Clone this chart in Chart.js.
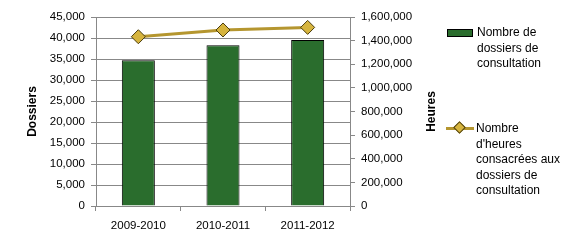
<!DOCTYPE html>
<html>
<head>
<meta charset="utf-8">
<script src="https://cdn.jsdelivr.net/npm/chart.js@4"></script>
<style>
  body { margin: 0; background: #fff; }
  #wrap { position: relative; width: 580px; height: 242px; }
  .leg { position: absolute; font: 12px "Liberation Sans", Arial, sans-serif; color: #000; line-height: 15.5px; }
  .leg .txt { position: absolute; left: 30px; top: 0; white-space: nowrap; }
  .box { position: absolute; left: 0; top: 4px; width: 24px; height: 6px; background: #2a6d2d; border: 1px solid #000; }
  .ln { position: absolute; left: 0; top: 6px; width: 28px; height: 3px; background: #b5962f; }
  .dm { position: absolute; left: 9px; top: 2px; width: 7px; height: 7px; background: #d6b43e; border: 1px solid #4a3c0c; transform: rotate(45deg); }
</style>
</head>
<body>
<div id="wrap">
  <canvas id="c" width="580" height="242"></canvas>
  <div class="leg" style="left:447px; top:25px;">
    <div class="box"></div>
    <div class="txt">Nombre de<br>dossiers de<br>consultation</div>
  </div>
  <div class="leg" style="left:446px; top:121px;">
    <div class="ln"></div><div class="dm"></div>
    <div class="txt">Nombre<br>d'heures<br>consacrées aux<br>dossiers de<br>consultation</div>
  </div>
</div>
<script>
const categories = ['2009-2010', '2010-2011', '2011-2012'];
const dossiers = [34700, 38300, 39500];
const heures = [1433000, 1490000, 1512000];

const font = { family: '"Liberation Sans", Arial, sans-serif', size: 11.5 };
const fmt = v => Number(v).toLocaleString('en-US');

const titles = {
  id: 'axisTitles',
  afterDraw(chart) {
    const ctx = chart.ctx;
    const area = chart.chartArea;
    const cy = (area.top + area.bottom) / 2;
    ctx.save();
    ctx.font = 'bold 12px "Liberation Sans", Arial, sans-serif';
    ctx.fillStyle = '#000';
    ctx.textAlign = 'center';
    ctx.textBaseline = 'middle';
    [['Dossiers', 33], ['Heures', 432]].forEach(([t, x]) => {
      ctx.save();
      ctx.translate(x, cy);
      ctx.rotate(-Math.PI / 2);
      ctx.fillText(t, 0, 0);
      ctx.restore();
    });
    ctx.restore();
  }
};

new Chart(document.getElementById('c'), {
  data: {
    labels: categories,
    datasets: [
      {
        type: 'line',
        label: "Nombre d'heures consacrées aux dossiers de consultation",
        data: heures,
        yAxisID: 'y2',
        borderColor: '#b5962f',
        borderWidth: 3,
        pointStyle: 'rectRot',
        pointRadius: 7,
        pointBackgroundColor: '#d6b43e',
        pointBorderColor: '#4a3c0c',
        pointBorderWidth: 1,
        order: 1
      },
      {
        type: 'bar',
        label: 'Nombre de dossiers de consultation',
        data: dossiers,
        yAxisID: 'y',
        backgroundColor: '#2a6d2d',
        borderColor: '#000',
        borderWidth: 1,
        barPercentage: 0.39,
        categoryPercentage: 1,
        order: 2
      }
    ]
  },
  options: {
    responsive: false,
    animation: false,
    layout: { padding: { left: 0, right: 130, top: 17, bottom: 0 } },
    plugins: { legend: { display: false }, tooltip: { enabled: false } },
    scales: {
      x: {
        grid: { offset: true, drawOnChartArea: false, tickLength: 5, color: '#888' },
        border: { color: '#888' },
        ticks: { font, color: '#000', padding: 8 },
        afterFit: s => { s.height = 36; }
      },
      y: {
        position: 'left',
        min: 0, max: 45000,
        ticks: { stepSize: 5000, font, color: '#000', padding: 6, callback: fmt },
        grid: { color: '#888', tickLength: 5 },
        border: { color: '#888' },
        afterFit: s => { s.width = 96; }
      },
      y2: {
        position: 'right',
        min: 0, max: 1600000,
        ticks: { stepSize: 200000, font, color: '#000', padding: 6, callback: fmt },
        grid: { drawOnChartArea: false, color: '#888', tickLength: 5 },
        border: { color: '#888' },
        afterFit: s => { s.width = 100; }
      }
    }
  },
  plugins: [titles]
});
</script>
</body>
</html>
